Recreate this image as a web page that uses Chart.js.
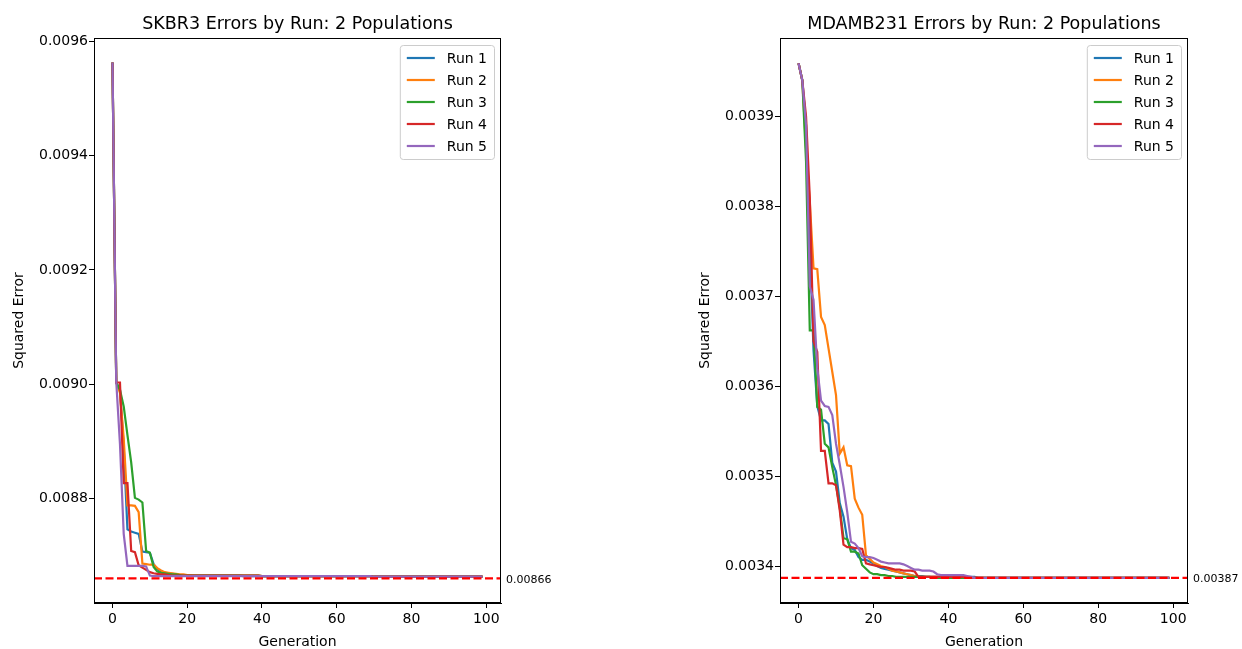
<!DOCTYPE html>
<html>
<head>
<meta charset="utf-8">
<script src="https://cdn.jsdelivr.net/npm/chart.js@4.4.1/dist/chart.umd.min.js"></script>
<style>
  body { margin: 0; background: #fff; width: 1242px; height: 649px; overflow: hidden; position: relative; }
  canvas { position: absolute; top: 0; }
  #c1 { left: 0; }
  #c2 { left: 610px; }
</style>
</head>
<body>
<canvas id="c1" width="610" height="649"></canvas>
<canvas id="c2" width="632" height="649"></canvas>
<script>
// generations 0..99 on the x axis, squared error per generation for each run
const runLabels = ['Run 1', 'Run 2', 'Run 3', 'Run 4', 'Run 5'];
const runColors = ['#1f77b4', '#ff7f0e', '#2ca02c', '#d62728', '#9467bd'];
const genTicks = [0, 20, 40, 60, 80, 100];

// SKBR3
const skbrTicks = [0.0088, 0.0090, 0.0092, 0.0094, 0.0096];
const skbrBest = 0.00866;
const skbrRun1 = [
  0.009563, 0.009003, 0.008990, 0.008890, 0.008746, 0.008742, 0.008740, 0.008738, 0.008707, 0.008706,
  0.008705, 0.008685, 0.008676, 0.008672, 0.008670, 0.008669, 0.008668, 0.008667, 0.008666, 0.008666,
  0.008665, 0.008665, 0.008665, 0.008665, 0.008665, 0.008665, 0.008665, 0.008665, 0.008665, 0.008665,
  0.008665, 0.008665, 0.008665, 0.008665, 0.008665, 0.008664, 0.008664, 0.008664, 0.008664, 0.008664,
  0.008664, 0.008664, 0.008664, 0.008664, 0.008664, 0.008664, 0.008664, 0.008664, 0.008664, 0.008664,
  0.008664, 0.008664, 0.008664, 0.008664, 0.008664, 0.008664, 0.008664, 0.008664, 0.008664, 0.008664,
  0.008664, 0.008664, 0.008664, 0.008664, 0.008664, 0.008664, 0.008664, 0.008664, 0.008664, 0.008664,
  0.008663, 0.008663, 0.008663, 0.008663, 0.008663, 0.008663, 0.008663, 0.008663, 0.008663, 0.008663,
  0.008663, 0.008663, 0.008663, 0.008663, 0.008663, 0.008663, 0.008663, 0.008663, 0.008663, 0.008663,
  0.008663, 0.008663, 0.008663, 0.008663, 0.008663, 0.008663, 0.008663, 0.008663, 0.008663, 0.008663
];
const skbrRun2 = [
  0.009563, 0.009003, 0.008985, 0.008905, 0.008788, 0.008788, 0.008787, 0.008776, 0.008686, 0.008685,
  0.008684, 0.008684, 0.008678, 0.008674, 0.008671, 0.008670, 0.008669, 0.008668, 0.008667, 0.008667,
  0.008666, 0.008666, 0.008665, 0.008665, 0.008665, 0.008665, 0.008665, 0.008665, 0.008665, 0.008665,
  0.008665, 0.008665, 0.008665, 0.008665, 0.008665, 0.008665, 0.008665, 0.008665, 0.008665, 0.008665,
  0.008664, 0.008664, 0.008664, 0.008664, 0.008664, 0.008664, 0.008664, 0.008664, 0.008664, 0.008664,
  0.008664, 0.008664, 0.008664, 0.008664, 0.008664, 0.008664, 0.008664, 0.008664, 0.008664, 0.008664,
  0.008664, 0.008664, 0.008664, 0.008664, 0.008664, 0.008664, 0.008664, 0.008664, 0.008664, 0.008664,
  0.008663, 0.008663, 0.008663, 0.008663, 0.008663, 0.008663, 0.008663, 0.008663, 0.008663, 0.008663,
  0.008663, 0.008663, 0.008663, 0.008663, 0.008663, 0.008663, 0.008663, 0.008663, 0.008663, 0.008663,
  0.008663, 0.008663, 0.008663, 0.008663, 0.008663, 0.008663, 0.008663, 0.008663, 0.008663, 0.008663
];
const skbrRun3 = [
  0.009563, 0.009003, 0.008990, 0.008961, 0.008911, 0.008863, 0.008801, 0.008798, 0.008793, 0.008708,
  0.008705, 0.008680, 0.008672, 0.008670, 0.008669, 0.008668, 0.008667, 0.008667, 0.008666, 0.008665,
  0.008665, 0.008665, 0.008665, 0.008665, 0.008665, 0.008665, 0.008665, 0.008665, 0.008665, 0.008665,
  0.008665, 0.008665, 0.008665, 0.008665, 0.008665, 0.008665, 0.008665, 0.008665, 0.008665, 0.008665,
  0.008664, 0.008664, 0.008664, 0.008664, 0.008664, 0.008664, 0.008664, 0.008664, 0.008664, 0.008664,
  0.008664, 0.008664, 0.008664, 0.008664, 0.008664, 0.008664, 0.008664, 0.008664, 0.008664, 0.008664,
  0.008664, 0.008664, 0.008664, 0.008664, 0.008664, 0.008664, 0.008664, 0.008664, 0.008664, 0.008664,
  0.008663, 0.008663, 0.008663, 0.008663, 0.008663, 0.008663, 0.008663, 0.008663, 0.008663, 0.008663,
  0.008663, 0.008663, 0.008663, 0.008663, 0.008663, 0.008663, 0.008663, 0.008663, 0.008663, 0.008663,
  0.008663, 0.008663, 0.008663, 0.008663, 0.008663, 0.008663, 0.008663, 0.008663, 0.008663, 0.008663
];
const skbrRun4 = [
  0.009563, 0.009003, 0.009003, 0.008827, 0.008827, 0.008708, 0.008706, 0.008683, 0.008679, 0.008675,
  0.008671, 0.008669, 0.008668, 0.008667, 0.008667, 0.008666, 0.008665, 0.008665, 0.008665, 0.008665,
  0.008665, 0.008665, 0.008665, 0.008665, 0.008665, 0.008665, 0.008665, 0.008665, 0.008665, 0.008665,
  0.008665, 0.008665, 0.008665, 0.008665, 0.008665, 0.008665, 0.008665, 0.008665, 0.008665, 0.008665,
  0.008664, 0.008664, 0.008664, 0.008664, 0.008664, 0.008664, 0.008664, 0.008664, 0.008664, 0.008664,
  0.008664, 0.008664, 0.008664, 0.008664, 0.008664, 0.008664, 0.008664, 0.008664, 0.008664, 0.008664,
  0.008664, 0.008664, 0.008664, 0.008664, 0.008664, 0.008664, 0.008664, 0.008664, 0.008664, 0.008664,
  0.008663, 0.008663, 0.008663, 0.008663, 0.008663, 0.008663, 0.008663, 0.008663, 0.008663, 0.008663,
  0.008663, 0.008663, 0.008663, 0.008663, 0.008663, 0.008663, 0.008663, 0.008663, 0.008663, 0.008663,
  0.008663, 0.008663, 0.008663, 0.008663, 0.008663, 0.008663, 0.008663, 0.008663, 0.008663, 0.008663
];
const skbrRun5 = [
  0.009563, 0.009005, 0.008895, 0.008738, 0.008682, 0.008682, 0.008682, 0.008682, 0.008682, 0.008681,
  0.008665, 0.008664, 0.008664, 0.008664, 0.008664, 0.008664, 0.008664, 0.008664, 0.008664, 0.008664,
  0.008664, 0.008664, 0.008664, 0.008664, 0.008664, 0.008664, 0.008664, 0.008664, 0.008664, 0.008664,
  0.008664, 0.008664, 0.008664, 0.008664, 0.008664, 0.008664, 0.008664, 0.008664, 0.008664, 0.008664,
  0.008664, 0.008664, 0.008664, 0.008664, 0.008664, 0.008664, 0.008664, 0.008664, 0.008664, 0.008664,
  0.008664, 0.008664, 0.008664, 0.008664, 0.008664, 0.008664, 0.008664, 0.008664, 0.008664, 0.008664,
  0.008664, 0.008664, 0.008664, 0.008664, 0.008664, 0.008664, 0.008664, 0.008664, 0.008664, 0.008664,
  0.008663, 0.008663, 0.008663, 0.008663, 0.008663, 0.008663, 0.008663, 0.008663, 0.008663, 0.008663,
  0.008663, 0.008663, 0.008663, 0.008663, 0.008663, 0.008663, 0.008663, 0.008663, 0.008663, 0.008663,
  0.008663, 0.008663, 0.008663, 0.008663, 0.008663, 0.008663, 0.008663, 0.008663, 0.008663, 0.008663
];

// MDAMB231
const mdaTicks = [0.0034, 0.0035, 0.0036, 0.0037, 0.0038, 0.0039];
const mdaBest = 0.003387;
const mdaRun1 = [
  0.003959, 0.003940, 0.003890, 0.003760, 0.003640, 0.003578, 0.003562, 0.003562, 0.003558, 0.003515,
  0.003505, 0.003470, 0.003455, 0.003430, 0.003420, 0.003418, 0.003410, 0.003407, 0.003407, 0.003405,
  0.003403, 0.003400, 0.003398, 0.003397, 0.003396, 0.003395, 0.003394, 0.003393, 0.003392, 0.003391,
  0.003390, 0.003389, 0.003389, 0.003389, 0.003388, 0.003388, 0.003388, 0.003388, 0.003388, 0.003388,
  0.003388, 0.003388, 0.003388, 0.003388, 0.003388, 0.003388, 0.003388, 0.003388, 0.003387, 0.003387,
  0.003387, 0.003387, 0.003387, 0.003387, 0.003387, 0.003387, 0.003387, 0.003387, 0.003387, 0.003387,
  0.003387, 0.003387, 0.003387, 0.003387, 0.003387, 0.003387, 0.003387, 0.003387, 0.003387, 0.003387,
  0.003387, 0.003387, 0.003387, 0.003387, 0.003387, 0.003387, 0.003387, 0.003387, 0.003387, 0.003387,
  0.003387, 0.003387, 0.003387, 0.003387, 0.003387, 0.003387, 0.003387, 0.003387, 0.003387, 0.003387,
  0.003387, 0.003387, 0.003387, 0.003387, 0.003387, 0.003387, 0.003387, 0.003387, 0.003387, 0.003387
];
const mdaRun2 = [
  0.003959, 0.003940, 0.003865, 0.003805, 0.003731, 0.003730, 0.003677, 0.003668, 0.003642, 0.003616,
  0.003590, 0.003525, 0.003532, 0.003512, 0.003511, 0.003475, 0.003465, 0.003457, 0.003412, 0.003408,
  0.003404, 0.003402, 0.003400, 0.003399, 0.003397, 0.003395, 0.003394, 0.003393, 0.003392, 0.003391,
  0.003390, 0.003389, 0.003388, 0.003388, 0.003388, 0.003388, 0.003388, 0.003388, 0.003388, 0.003388,
  0.003388, 0.003387, 0.003387, 0.003387, 0.003387, 0.003387, 0.003387, 0.003387, 0.003387, 0.003387,
  0.003387, 0.003387, 0.003387, 0.003387, 0.003387, 0.003387, 0.003387, 0.003387, 0.003387, 0.003387,
  0.003387, 0.003387, 0.003387, 0.003387, 0.003387, 0.003387, 0.003387, 0.003387, 0.003387, 0.003387,
  0.003387, 0.003387, 0.003387, 0.003387, 0.003387, 0.003387, 0.003387, 0.003387, 0.003387, 0.003387,
  0.003387, 0.003387, 0.003387, 0.003387, 0.003387, 0.003387, 0.003387, 0.003387, 0.003387, 0.003387,
  0.003387, 0.003387, 0.003387, 0.003387, 0.003387, 0.003387, 0.003387, 0.003387, 0.003387, 0.003387
];
const mdaRun3 = [
  0.003959, 0.003940, 0.003850, 0.003662, 0.003662, 0.003577, 0.003574, 0.003536, 0.003532, 0.003510,
  0.003490, 0.003465, 0.003431, 0.003430, 0.003416, 0.003416, 0.003414, 0.003401, 0.003397, 0.003393,
  0.003391, 0.003391, 0.003390, 0.003390, 0.003389, 0.003389, 0.003388, 0.003388, 0.003388, 0.003388,
  0.003388, 0.003388, 0.003388, 0.003388, 0.003388, 0.003388, 0.003387, 0.003387, 0.003387, 0.003387,
  0.003387, 0.003387, 0.003387, 0.003387, 0.003387, 0.003387, 0.003387, 0.003387, 0.003387, 0.003387,
  0.003387, 0.003387, 0.003387, 0.003387, 0.003387, 0.003387, 0.003387, 0.003387, 0.003387, 0.003387,
  0.003387, 0.003387, 0.003387, 0.003387, 0.003387, 0.003387, 0.003387, 0.003387, 0.003387, 0.003387,
  0.003387, 0.003387, 0.003387, 0.003387, 0.003387, 0.003387, 0.003387, 0.003387, 0.003387, 0.003387,
  0.003387, 0.003387, 0.003387, 0.003387, 0.003387, 0.003387, 0.003387, 0.003387, 0.003387, 0.003387,
  0.003387, 0.003387, 0.003387, 0.003387, 0.003387, 0.003387, 0.003387, 0.003387, 0.003387, 0.003387
];
const mdaRun4 = [
  0.003959, 0.003940, 0.003900, 0.003810, 0.003650, 0.003638, 0.003528, 0.003528, 0.003492, 0.003492,
  0.003490, 0.003462, 0.003424, 0.003421, 0.003421, 0.003420, 0.003420, 0.003419, 0.003403, 0.003402,
  0.003401, 0.003400, 0.003399, 0.003399, 0.003398, 0.003397, 0.003396, 0.003396, 0.003395, 0.003395,
  0.003395, 0.003394, 0.003388, 0.003388, 0.003388, 0.003388, 0.003388, 0.003388, 0.003388, 0.003388,
  0.003388, 0.003388, 0.003388, 0.003388, 0.003388, 0.003388, 0.003387, 0.003387, 0.003387, 0.003387,
  0.003387, 0.003387, 0.003387, 0.003387, 0.003387, 0.003387, 0.003387, 0.003387, 0.003387, 0.003387,
  0.003387, 0.003387, 0.003387, 0.003387, 0.003387, 0.003387, 0.003387, 0.003387, 0.003387, 0.003387,
  0.003387, 0.003387, 0.003387, 0.003387, 0.003387, 0.003387, 0.003387, 0.003387, 0.003387, 0.003387,
  0.003387, 0.003387, 0.003387, 0.003387, 0.003387, 0.003387, 0.003387, 0.003387, 0.003387, 0.003387,
  0.003387, 0.003387, 0.003387, 0.003387, 0.003387, 0.003387, 0.003387, 0.003387, 0.003387, 0.003387
];
const mdaRun5 = [
  0.003959, 0.003940, 0.003890, 0.003711, 0.003696, 0.003620, 0.003584, 0.003578, 0.003577, 0.003568,
  0.003536, 0.003513, 0.003488, 0.003460, 0.003427, 0.003425, 0.003420, 0.003411, 0.003410, 0.003410,
  0.003409, 0.003407, 0.003405, 0.003404, 0.003403, 0.003403, 0.003403, 0.003403, 0.003402, 0.003400,
  0.003398, 0.003396, 0.003396, 0.003395, 0.003395, 0.003395, 0.003394, 0.003391, 0.003390, 0.003390,
  0.003390, 0.003390, 0.003390, 0.003390, 0.003390, 0.003389, 0.003388, 0.003387, 0.003387, 0.003387,
  0.003387, 0.003387, 0.003387, 0.003387, 0.003387, 0.003387, 0.003387, 0.003387, 0.003387, 0.003387,
  0.003387, 0.003387, 0.003387, 0.003387, 0.003387, 0.003387, 0.003387, 0.003387, 0.003387, 0.003387,
  0.003387, 0.003387, 0.003387, 0.003387, 0.003387, 0.003387, 0.003387, 0.003387, 0.003387, 0.003387,
  0.003387, 0.003387, 0.003387, 0.003387, 0.003387, 0.003387, 0.003387, 0.003387, 0.003387, 0.003387,
  0.003387, 0.003387, 0.003387, 0.003387, 0.003387, 0.003387, 0.003387, 0.003387, 0.003387, 0.003387
];

const FONT = 'DejaVu Sans';
Chart.defaults.font.family = FONT;
Chart.defaults.color = '#000';

// title, dashed best line with its label, box frame and an in-axes legend
const decorations = {
  id: 'deco',
  afterDatasetsDraw(chart, args, opts) {
    const ctx = chart.ctx, a = chart.chartArea;
    const yy = chart.scales.y.getPixelForValue(opts.best);
    ctx.save();
    ctx.beginPath();
    ctx.rect(a.left, a.top - 2, a.right - a.left, a.bottom - a.top + 4);
    ctx.clip();
    ctx.strokeStyle = '#ff0000';
    ctx.lineWidth = 2.2;
    ctx.setLineDash([8, 3.5]);
    ctx.beginPath();
    ctx.moveTo(a.left, yy);
    ctx.lineTo(a.right, yy);
    ctx.stroke();
    ctx.restore();

    ctx.save();
    ctx.fillStyle = '#000';
    ctx.font = '11px "' + FONT + '"';
    ctx.textBaseline = 'middle';
    ctx.textAlign = 'left';
    ctx.fillText(opts.bestLabel, a.right + 5, yy + 1.5);
    ctx.restore();
  },
  afterDraw(chart, args, opts) {
    const ctx = chart.ctx, a = chart.chartArea;
    ctx.save();
    ctx.strokeStyle = '#000';
    ctx.lineWidth = 1;
    ctx.strokeRect(a.left + 0.5, a.top + 0.5, a.right - a.left - 1, a.bottom - a.top - 1);

    ctx.fillStyle = '#000';
    ctx.font = '17.5px "' + FONT + '"';
    ctx.textAlign = 'center';
    ctx.textBaseline = 'alphabetic';
    ctx.fillText(opts.title, (a.left + a.right) / 2, 29);

    // legend
    ctx.font = '14px "' + FONT + '"';
    const sets = chart.data.datasets;
    let tw = 0;
    sets.forEach(d => { tw = Math.max(tw, ctx.measureText(d.label).width); });
    const w = 7 + 28 + 12 + tw + 7;
    const h = 114;
    const x0 = a.right - 7 - w, y0 = a.top + 7;
    ctx.beginPath();
    ctx.roundRect(x0 + 0.5, y0 + 0.5, w, h, 3);
    ctx.fillStyle = 'rgba(255,255,255,0.8)';
    ctx.fill();
    ctx.strokeStyle = '#cccccc';
    ctx.stroke();
    ctx.textAlign = 'left';
    ctx.textBaseline = 'middle';
    sets.forEach((d, i) => {
      const ry = y0 + 13 + i * 22;
      ctx.strokeStyle = d.borderColor;
      ctx.lineWidth = 2.2;
      ctx.beginPath();
      ctx.moveTo(x0 + 7, ry);
      ctx.lineTo(x0 + 35, ry);
      ctx.stroke();
      ctx.fillStyle = '#000';
      ctx.fillText(d.label, x0 + 47, ry + 1);
    });
    ctx.restore();
  }
};

function makeChart(id, runs, yMin, yMax, yTicks, title, best, bestLabel, padLeft, padRight) {
  const datasets = runs.map((vals, i) => ({
    label: runLabels[i],
    data: vals.map((v, g) => ({ x: g, y: v })),
    borderColor: runColors[i],
    backgroundColor: runColors[i],
    borderWidth: 2.2,
    pointRadius: 0,
    tension: 0,
    order: runs.length - 1 - i
  }));
  const axisGrid = { display: true, drawOnChartArea: false, drawTicks: true, tickLength: 5, color: '#000', lineWidth: 1 };
  return new Chart(document.getElementById(id), {
    type: 'line',
    data: { datasets: datasets },
    options: {
      responsive: false,
      animation: false,
      layout: { padding: { left: padLeft, right: padRight, top: 38, bottom: 0 } },
      plugins: {
        legend: { display: false },
        tooltip: { enabled: false },
        deco: { title: title, best: best, bestLabel: bestLabel }
      },
      scales: {
        x: {
          type: 'linear',
          min: -4.95,
          max: 103.95,
          afterBuildTicks: s => { s.ticks = genTicks.map(v => ({ value: v })); },
          afterFit: s => { s.height = 46; },
          grid: axisGrid,
          border: { display: true, color: '#000', width: 1 },
          ticks: { color: '#000', font: { size: 14 }, padding: 3, maxRotation: 0, autoSkip: false },
          title: { display: true, text: 'Generation', color: '#000', font: { size: 14, lineHeight: 1.0 }, padding: { top: 0, bottom: 0 } }
        },
        y: {
          type: 'linear',
          min: yMin,
          max: yMax,
          afterBuildTicks: s => { s.ticks = yTicks.map(v => ({ value: v })); },
          afterFit: s => { s.width = 94; },
          grid: axisGrid,
          border: { display: true, color: '#000', width: 1 },
          ticks: { color: '#000', font: { size: 14 }, padding: 1, callback: v => v.toFixed(4) },
          title: { display: true, text: 'Squared Error', color: '#000', font: { size: 14 }, padding: { top: 11, bottom: 0 } }
        }
      }
    },
    plugins: [decorations]
  });
}

makeChart('c1', [skbrRun1, skbrRun2, skbrRun3, skbrRun4, skbrRun5],
  0.008617, 0.009606, skbrTicks, 'SKBR3 Errors by Run: 2 Populations', skbrBest, '0.00866', 0, 109);
makeChart('c2', [mdaRun1, mdaRun2, mdaRun3, mdaRun4, mdaRun5],
  0.003359, 0.003987, mdaTicks, 'MDAMB231 Errors by Run: 2 Populations', mdaBest, '0.00387', 76, 54);
</script>
</body>
</html>
